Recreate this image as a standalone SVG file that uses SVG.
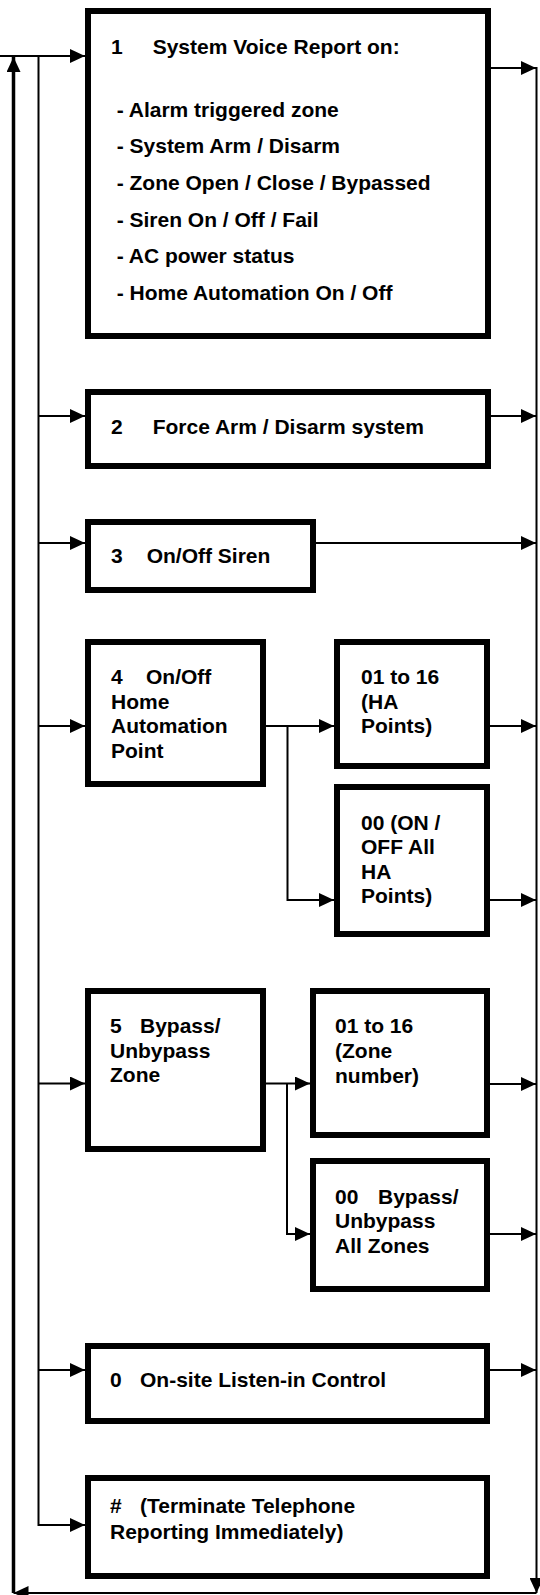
<svg xmlns="http://www.w3.org/2000/svg" width="540" height="1595" viewBox="0 0 540 1595">
<style>
.box{fill:#fff;stroke:#000;stroke-width:6}
.t{font-family:"Liberation Sans",Arial,sans-serif;font-weight:bold;font-size:21px;fill:#000}
.c{fill:none;stroke:#000;stroke-width:2}
.ck{fill:none;stroke:#000;stroke-width:3.5}
.a{marker-end:url(#arr)}
</style>
<defs>
<marker id="arr" markerUnits="userSpaceOnUse" markerWidth="15" markerHeight="14" refX="15" refY="7" orient="auto">
<path d="M0,0 L15,7 L0,14 Z" fill="#000"/>
</marker>
</defs>
<rect width="540" height="1595" fill="#fff"/>
<g id="connectors">
<line class="c a" x1="0" y1="56" x2="85" y2="56"/>
<polyline class="c a" points="38.5,56 38.5,1525 85,1525"/>
<line class="c a" x1="38.5" y1="416" x2="85" y2="416"/>
<line class="c a" x1="38.5" y1="543" x2="85" y2="543"/>
<line class="c a" x1="38.5" y1="726" x2="85" y2="726"/>
<line class="c a" x1="38.5" y1="1083.5" x2="85" y2="1083.5"/>
<line class="c a" x1="38.5" y1="1370" x2="85" y2="1370"/>
<line class="ck a" x1="13.5" y1="1593" x2="13.5" y2="57"/>
<line class="c a" x1="491" y1="68" x2="536" y2="68"/>
<line class="c a" x1="491" y1="416" x2="536" y2="416"/>
<line class="c a" x1="316" y1="543" x2="536" y2="543"/>
<line class="c a" x1="490" y1="726" x2="536" y2="726"/>
<line class="c a" x1="490" y1="900" x2="536" y2="900"/>
<line class="c a" x1="490" y1="1084" x2="536" y2="1084"/>
<line class="c a" x1="490" y1="1234" x2="536" y2="1234"/>
<line class="c a" x1="490" y1="1370" x2="536" y2="1370"/>
<line class="c a" x1="536.5" y1="67" x2="536.5" y2="1593"/>
<line class="c a" x1="536.5" y1="1593" x2="13.5" y2="1593"/>
<line class="c a" x1="266" y1="726" x2="334" y2="726"/>
<polyline class="c a" points="287.5,726 287.5,900 334,900"/>
<line class="c a" x1="266" y1="1083.5" x2="310" y2="1083.5"/>
<polyline class="c a" points="287,1083.5 287,1234 310,1234"/>
</g>
<g id="n1">
<rect class="box" x="88" y="11" width="400" height="325"/>
<text class="t" y="54"><tspan x="111">1</tspan><tspan x="152.7">System Voice Report on:</tspan></text>
<text class="t" x="116.7" y="116.5">- Alarm triggered zone</text>
<text class="t" x="116.7" y="153.2">- System Arm / Disarm</text>
<text class="t" x="116.7" y="189.9">- Zone Open / Close / Bypassed</text>
<text class="t" x="116.7" y="226.6">- Siren On / Off / Fail</text>
<text class="t" x="116.7" y="263.3">- AC power status</text>
<text class="t" x="116.7" y="300">- Home Automation On / Off</text>
</g>
<g id="n2">
<rect class="box" x="88" y="392" width="400" height="74"/>
<text class="t" y="434"><tspan x="111">2</tspan><tspan x="152.7">Force Arm / Disarm system</tspan></text>
</g>
<g id="n3">
<rect class="box" x="88" y="522" width="225" height="68"/>
<text class="t" y="563"><tspan x="111">3</tspan><tspan x="146.7">On/Off Siren</tspan></text>
</g>
<g id="n4">
<rect class="box" x="88" y="642" width="175" height="142"/>
<text class="t" y="684"><tspan x="111">4</tspan><tspan x="146">On/Off</tspan></text>
<text class="t" x="111" y="708.5">Home</text>
<text class="t" x="111" y="733">Automation</text>
<text class="t" x="111" y="757.5">Point</text>
</g>
<g id="n4a">
<rect class="box" x="337" y="642" width="150" height="124"/>
<text class="t" x="361" y="684">01 to 16</text>
<text class="t" x="361" y="708.5">(HA</text>
<text class="t" x="361" y="733">Points)</text>
</g>
<g id="n4b">
<rect class="box" x="337" y="787" width="150" height="147"/>
<text class="t" x="361" y="829.5">00 (ON /</text>
<text class="t" x="361" y="854">OFF All</text>
<text class="t" x="361" y="878.5">HA</text>
<text class="t" x="361" y="903">Points)</text>
</g>
<g id="n5">
<rect class="box" x="88" y="991" width="175" height="158"/>
<text class="t" y="1033"><tspan x="110">5</tspan><tspan x="140">Bypass/</tspan></text>
<text class="t" x="110" y="1057.5">Unbypass</text>
<text class="t" x="110" y="1082">Zone</text>
</g>
<g id="n5a">
<rect class="box" x="313" y="991" width="174" height="144"/>
<text class="t" x="335" y="1032.5">01 to 16</text>
<text class="t" x="335" y="1057.5">(Zone</text>
<text class="t" x="335" y="1082.5">number)</text>
</g>
<g id="n5b">
<rect class="box" x="313" y="1161" width="174" height="128"/>
<text class="t" y="1203.5"><tspan x="335">00</tspan><tspan x="378">Bypass/</tspan></text>
<text class="t" x="335" y="1228">Unbypass</text>
<text class="t" x="335" y="1252.5">All Zones</text>
</g>
<g id="n0">
<rect class="box" x="88" y="1346" width="399" height="75"/>
<text class="t" y="1387"><tspan x="110">0</tspan><tspan x="140">On-site Listen-in Control</tspan></text>
</g>
<g id="nhash">
<rect class="box" x="88" y="1478" width="399" height="98"/>
<text class="t" y="1513"><tspan x="110">#</tspan><tspan x="140">(Terminate Telephone</tspan></text>
<text class="t" x="110" y="1538.5">Reporting Immediately)</text>
</g>
</svg>
